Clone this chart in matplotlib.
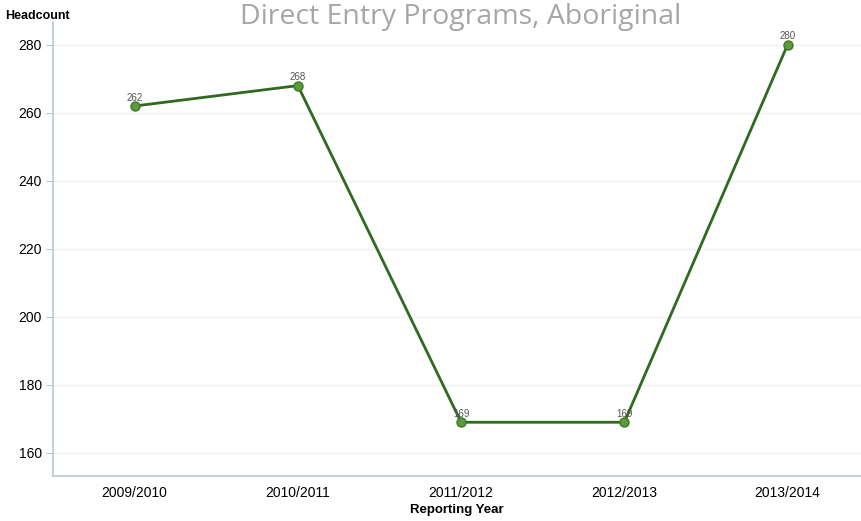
import matplotlib.pyplot as plt

years = ["2009/2010", "2010/2011", "2011/2012", "2012/2013", "2013/2014"]
headcount = [262, 268, 169, 169, 280]
yticks = [160, 180, 200, 220, 240, 260, 280]

fig = plt.figure(figsize=(8.61, 5.21), dpi=100)
ax = fig.add_axes([0.0616, 0.0864, 0.9384, 0.872])

x = list(range(len(years)))
ax.plot(x, headcount, color="#2f6a1f", lw=2, zorder=3)
ax.plot(x, headcount, "o", ms=6.5, color="#5c9a3c", mec="#3f7a28", mew=1, zorder=4)
for xi, v in zip(x, headcount):
    ax.annotate(str(v), (xi, v), xytext=(0, 2.5), textcoords="offset points",
                ha="center", va="bottom", fontsize=7, color="#555555",
                family="Liberation Sans")

ax.set_xlim(-0.5, 4.45)
ax.set_ylim(153.2, 286.8)
ax.set_xticks(x)
ax.set_xticklabels(years, family="Liberation Sans", fontsize=10)
ax.set_yticks(yticks)
ax.set_yticklabels([str(t) for t in yticks], family="Liberation Sans", fontsize=10)
ax.tick_params(axis="x", length=0, pad=7)
ax.tick_params(axis="y", length=5, color="#b8c6d8", pad=3)
ax.grid(axis="y", color="#f0f0f0", lw=1)
ax.set_axisbelow(True)
for s in ["top", "right"]:
    ax.spines[s].set_visible(False)
for s in ["left", "bottom"]:
    ax.spines[s].set_color("#b8c6d8")
    ax.spines[s].set_linewidth(1.2)

ax.set_xlabel("Reporting Year", family="Liberation Sans", fontsize=9.5,
              fontweight="bold", labelpad=3)
fig.text(0.006, 0.97, "Headcount", family="Liberation Sans", fontsize=9,
         fontweight="bold", va="center")
fig.text(0.535, 0.967, "Direct Entry Programs, Aboriginal", family="Open Sans",
         fontsize=20.5, color="#a6a6a6", ha="center", va="center")

fig.savefig("out.png", dpi=100)
